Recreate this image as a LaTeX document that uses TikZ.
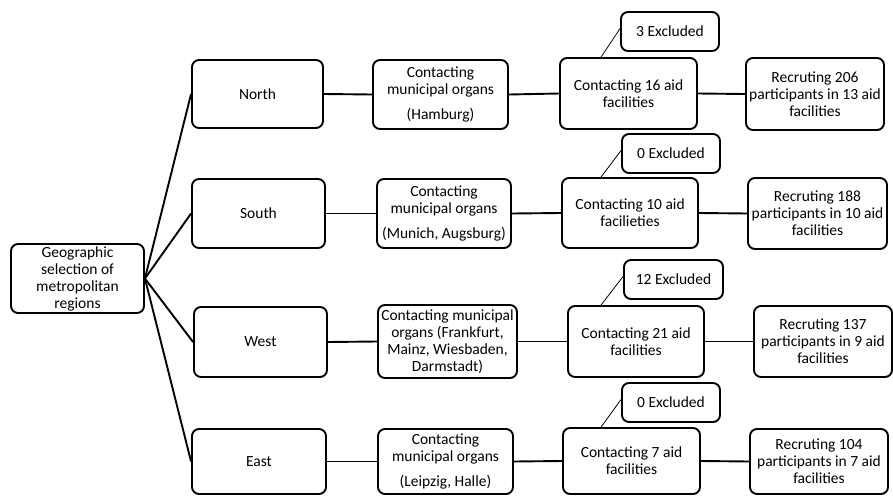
\documentclass[tikz,border=0pt]{standalone}
\usepackage{fontspec}
\setmainfont{Carlito}
\begin{document}
\begin{tikzpicture}[x=1pt,y=-1pt,
  box/.style={draw=black, line width=1.9pt, rounded corners=7pt, fill=white, align=center, inner sep=1pt,
    font=\fontsize{15.5}{17}\selectfont},
  conn/.style={draw=black, line width=1.9pt},
  thin/.style={draw=black, line width=0.8pt}]
\useasboundingbox (0,0) rectangle (893,495);
% Root
\node[box, minimum width=133pt, minimum height=69pt] (geo) at (77.5,278.5) {Geographic\\selection of\\metropolitan\\regions};
% Regions
\node[box, minimum width=131pt, minimum height=68pt] (north) at (257.5,94) {North};
\node[box, minimum width=133pt, minimum height=69pt] (south) at (258.5,213.5) {South};
\node[box, minimum width=133pt, minimum height=70pt] (west) at (260.5,342) {West};
\node[box, minimum width=134pt, minimum height=65pt] (east) at (259,461.5) {East};
% Municipal
\node[box, minimum width=135pt, minimum height=69pt] (mN) at (440.5,94.5) {Contacting\\municipal organs\\[8pt](Hamburg)};
\node[box, minimum width=134pt, minimum height=69pt] (mS) at (444,213.5) {Contacting\\municipal organs\\[8pt](Munich, Augsburg)};
\node[box, minimum width=139pt, minimum height=73pt] (mW) at (447.5,341.5) {Contacting municipal\\organs (Frankfurt,\\Mainz, Wiesbaden,\\Darmstadt)};
\node[box, minimum width=135pt, minimum height=65pt] (mE) at (445.5,461.5) {Contacting\\municipal organs\\[8pt](Leipzig, Halle)};
% Aid facilities
\node[box, minimum width=137pt, minimum height=71pt] (aN) at (628.5,93.5) {Contacting 16 aid\\facilities};
\node[box, minimum width=136pt, minimum height=70pt] (aS) at (630,213) {Contacting 10 aid\\facilieties};
\node[box, minimum width=136pt, minimum height=71pt] (aW) at (636,341.5) {Contacting 21 aid\\facilities};
\node[box, minimum width=137pt, minimum height=66pt] (aE) at (631.5,461) {Contacting 7 aid\\facilities};
% Excluded
\node[box, minimum width=98pt, minimum height=39pt] (xN) at (670,31.5) {3 Excluded};
\node[box, minimum width=98pt, minimum height=39pt] (xS) at (671,153.5) {0 Excluded};
\node[box, minimum width=99pt, minimum height=39pt] (xW) at (673.5,279.5) {12 Excluded};
\node[box, minimum width=98pt, minimum height=39pt] (xE) at (671,402.5) {0 Excluded};
% Recruiting
\node[box, minimum width=138pt, minimum height=72pt] (rN) at (815,94) {Recruting 206\\participants in 13 aid\\facilities};
\node[box, minimum width=139pt, minimum height=71pt] (rS) at (817.5,213.5) {Recruting 188\\participants in 10 aid\\facilities};
\node[box, minimum width=138pt, minimum height=71pt] (rW) at (823,341.5) {Recruting 137\\participants in 9 aid\\facilities};
\node[box, minimum width=138pt, minimum height=65pt] (rE) at (819,461.5) {Recruting 104\\participants in 7 aid\\facilities};
% Connectors from root
\draw[conn] (geo.east) -- (north.west);
\draw[conn] (geo.east) -- (south.west);
\draw[conn] (geo.east) -- (west.west);
\draw[conn] (geo.east) -- (east.west);
% Row connectors
\draw[conn] (north.east) -- (mN.west);
\draw[conn] (south.east) -- (mS.west);
\draw[conn] (west.east) -- (mW.west);
\draw[conn] (east.east) -- (mE.west);
\draw[conn] (mN.east) -- (aN.west);
\draw[conn] (mS.east) -- (aS.west);
\draw[conn] (mW.east) -- (aW.west);
\draw[conn] (mE.east) -- (aE.west);
\draw[conn] (aN.east) -- (rN.west);
\draw[conn] (aS.east) -- (rS.west);
\draw[conn] (aW.east) -- (rW.west);
\draw[conn] (aE.east) -- (rE.west);
% Excluded connectors
\draw[thin] ([xshift=42pt]aN.north west) -- ([yshift=3pt]xN.west);
\draw[thin] ([xshift=40pt]aS.north west) -- ([yshift=3pt]xS.west);
\draw[thin] ([xshift=34pt]aW.north west) -- ([yshift=3pt]xW.west);
\draw[thin] ([xshift=39pt]aE.north west) -- ([yshift=3pt]xE.west);
\end{tikzpicture}
\end{document}
